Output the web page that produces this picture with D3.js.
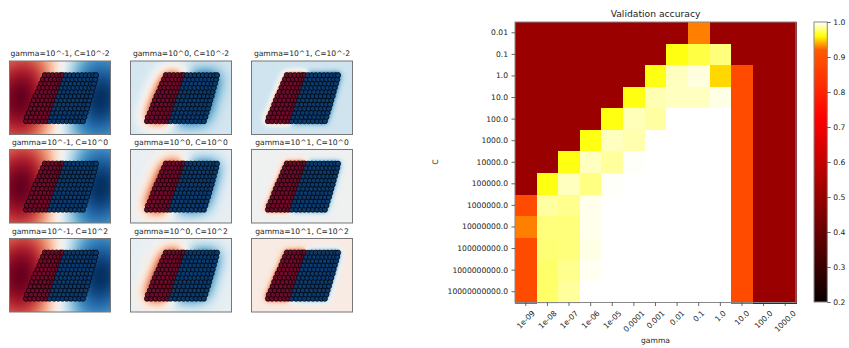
<!DOCTYPE html>
<html>
<head>
<meta charset="utf-8">
<script src="https://cdn.jsdelivr.net/npm/d3@7"></script>
<style>
body { margin: 0; background: #fff; }
svg { display: block; font-family: "DejaVu Sans", sans-serif; }
</style>
</head>
<body>
<svg id="chart" width="849" height="348"></svg>
<script>
// grid search values
var cLabels = ["0.01", "0.1", "1.0", "10.0", "100.0", "1000.0", "10000.0", "100000.0",
  "1000000.0", "10000000.0", "100000000.0", "1000000000.0", "10000000000.0"];
var gammaLabels = ["1e-09", "1e-08", "1e-07", "1e-06", "1e-05", "0.0001", "0.001",
  "0.01", "0.1", "1.0", "10.0", "100.0", "1000.0"];
// validation accuracy, one row per C, one column per gamma
var scores = [
  [0.51, 0.51, 0.51, 0.51, 0.51, 0.51, 0.51, 0.51, 0.929, 0.51, 0.51, 0.51, 0.51],
  [0.51, 0.51, 0.51, 0.51, 0.51, 0.51, 0.51, 0.962, 0.970, 0.979, 0.51, 0.51, 0.51],
  [0.51, 0.51, 0.51, 0.51, 0.51, 0.51, 0.962, 0.990, 0.995, 0.950, 0.887, 0.51, 0.51],
  [0.51, 0.51, 0.51, 0.51, 0.51, 0.962, 0.988, 0.990, 0.990, 0.996, 0.887, 0.51, 0.51],
  [0.51, 0.51, 0.51, 0.51, 0.962, 0.989, 0.985, 1.0, 1.0, 1.0, 0.887, 0.51, 0.51],
  [0.51, 0.51, 0.51, 0.962, 0.990, 0.987, 1.0, 1.0, 1.0, 1.0, 0.887, 0.51, 0.51],
  [0.51, 0.51, 0.962, 0.990, 0.984, 0.999, 1.0, 1.0, 1.0, 1.0, 0.887, 0.51, 0.51],
  [0.51, 0.962, 0.990, 0.980, 0.999, 1.0, 1.0, 1.0, 1.0, 1.0, 0.887, 0.51, 0.51],
  [0.887, 0.985, 0.982, 0.997, 1.0, 1.0, 1.0, 1.0, 1.0, 1.0, 0.887, 0.51, 0.51],
  [0.929, 0.979, 0.979, 0.997, 1.0, 1.0, 1.0, 1.0, 1.0, 1.0, 0.887, 0.51, 0.51],
  [0.887, 0.978, 0.979, 0.996, 1.0, 1.0, 1.0, 1.0, 1.0, 1.0, 0.887, 0.51, 0.51],
  [0.887, 0.976, 0.982, 0.998, 1.0, 1.0, 1.0, 1.0, 1.0, 1.0, 0.887, 0.51, 0.51],
  [0.887, 0.976, 0.984, 1.0, 1.0, 1.0, 1.0, 1.0, 1.0, 1.0, 0.887, 0.51, 0.51]
];
var cbTicks = [0.2, 0.3, 0.4, 0.5, 0.6, 0.7, 0.8, 0.9, 1.0];

// 2d toy data on the left: [y, [x, x, ...]] per row
var redRows = [
  [-1.40, [-2.02, -1.78, -1.52, -1.27, -1.03, -0.82]],
  [-1.16, [-1.97, -1.71, -1.44, -1.20, -0.95, -0.72]],
  [-0.91, [-1.85, -1.60, -1.36, -1.10, -0.86, -0.62]],
  [-0.66, [-1.74, -1.49, -1.24, -0.99, -0.75, -0.53]],
  [-0.40, [-1.65, -1.41, -1.15, -0.90, -0.66, -0.45]],
  [-0.14, [-1.55, -1.30, -1.05, -0.80, -0.56, -0.36]],
  [0.11, [-1.45, -1.20, -0.95, -0.70, -0.47, -0.27]],
  [0.35, [-1.33, -1.08, -0.84, -0.60, -0.38, -0.18]],
  [0.61, [-1.22, -0.99, -0.75, -0.51, -0.29, -0.08]],
  [0.86, [-1.12, -0.88, -0.64, -0.40, -0.18, 0.02]],
  [1.11, [-1.01, -0.78, -0.54, -0.30, -0.08, 0.10]],
  [1.36, [-0.90, -0.68, -0.44, -0.20, 0.02, 0.16]]
];
var blueRows = [
  [-1.40, [-0.62, -0.35, -0.10, 0.15, 0.40, 0.65, 0.90, 1.15, 1.36]],
  [-1.15, [-0.52, -0.27, -0.02, 0.23, 0.48, 0.73, 0.98, 1.22, 1.45]],
  [-0.90, [-0.44, -0.19, 0.06, 0.31, 0.56, 0.81, 1.05, 1.30, 1.52]],
  [-0.65, [-0.35, -0.10, 0.15, 0.40, 0.65, 0.89, 1.13, 1.37, 1.60]],
  [-0.40, [-0.27, -0.02, 0.23, 0.48, 0.72, 0.96, 1.21, 1.45, 1.67]],
  [-0.15, [-0.18, 0.07, 0.32, 0.56, 0.80, 1.04, 1.28, 1.52, 1.74]],
  [0.10, [-0.10, 0.15, 0.40, 0.64, 0.88, 1.12, 1.36, 1.60, 1.82]],
  [0.35, [0.00, 0.24, 0.48, 0.72, 0.96, 1.20, 1.44, 1.67, 1.88]],
  [0.60, [0.08, 0.32, 0.56, 0.80, 1.04, 1.28, 1.52, 1.75, 1.95]],
  [0.85, [0.16, 0.40, 0.64, 0.88, 1.12, 1.36, 1.60, 1.83, 2.02]],
  [1.10, [0.25, 0.49, 0.73, 0.97, 1.21, 1.45, 1.68, 1.90, 2.09]],
  [1.35, [0.36, 0.58, 0.82, 1.06, 1.30, 1.53, 1.76, 1.98, 2.14]]
];
var gammaExp = [-1, 0, 1];
var cExp = [-2, 0, 2];
// kernel width used for the background of each column, and red class weight (rows C, cols gamma)
var kernelGamma = [0.1, 2, 12];
var redWeight = [
  [1.0, 1.15, 1.0],
  [1.0, 0.95, 0.72],
  [1.0, 0.95, 0.6]
];

var svg = d3.select("#chart");

// ---------- left: decision functions ----------
var panelX = [9.5, 130.5, 251.5], panelY = [61, 149.5, 238.5];
var pw = 101, ph = 73.5;
var px = d3.scaleLinear().domain([-3, 3]).range([0, pw]);
var py = d3.scaleLinear().domain([-2.2, 2.2]).range([ph, 0]);

var redPts = [], bluePts = [], allPts = [];
redRows.forEach(function (r, i) {
  r[1].forEach(function (x) { redPts.push([x, r[0]]); allPts.push({x: x, y: r[0], c: 0}); });
  blueRows[i][1].forEach(function (x) {
    bluePts.push([x, blueRows[i][0]]);
    allPts.push({x: x, y: blueRows[i][0], c: 1});
  });
});

function field(gamma, wr) {
  var w = Math.ceil(pw), h = Math.ceil(ph);
  var vals = new Float64Array(w * h), lo = Infinity, hi = -Infinity;
  for (var j = 0; j < h; j++) {
    for (var i = 0; i < w; i++) {
      var x = px.invert(i + 0.5), y = py.invert(j + 0.5);
      var sr = 0, sb = 0;
      redPts.forEach(function (p) { var dx = x - p[0], dy = y - p[1]; sr += Math.exp(-gamma * (dx * dx + dy * dy)); });
      bluePts.forEach(function (p) { var dx = x - p[0], dy = y - p[1]; sb += Math.exp(-gamma * (dx * dx + dy * dy)); });
      var v = sb / bluePts.length - wr * sr / redPts.length;
      vals[j * w + i] = v;
      if (v < lo) lo = v;
      if (v > hi) hi = v;
    }
  }
  var canvas = document.createElement("canvas");
  canvas.width = w; canvas.height = h;
  var ctx = canvas.getContext("2d");
  var img = ctx.createImageData(w, h);
  for (var k = 0; k < w * h; k++) {
    var c = d3.rgb(d3.interpolateRdBu((vals[k] - lo) / (hi - lo)));
    img.data[k * 4] = c.r; img.data[k * 4 + 1] = c.g; img.data[k * 4 + 2] = c.b; img.data[k * 4 + 3] = 255;
  }
  ctx.putImageData(img, 0, 0);
  return canvas.toDataURL();
}

cExp.forEach(function (ce, r) {
  gammaExp.forEach(function (ge, c) {
    var g = svg.append("g").attr("transform", "translate(" + panelX[c] + "," + panelY[r] + ")");
    g.append("image")
      .attr("href", field(kernelGamma[c], redWeight[r][c]))
      .attr("width", pw).attr("height", ph)
      .attr("preserveAspectRatio", "none");
    g.selectAll("circle").data(allPts).enter().append("circle")
      .attr("cx", function (d) { return px(d.x); })
      .attr("cy", function (d) { return py(d.y); })
      .attr("r", 2.6)
      .attr("fill", function (d) { return d.c ? "#0b3a6e" : "#700a2a"; })
      .attr("stroke", "#000").attr("stroke-width", 0.7);
    g.append("rect").attr("width", pw).attr("height", ph)
      .attr("fill", "none").attr("stroke", "#777").attr("stroke-width", 1);
    g.append("text").attr("x", pw / 2).attr("y", -5)
      .attr("text-anchor", "middle").attr("font-size", 7.6).attr("fill", "#222")
      .text("gamma=10^" + ge + ", C=10^" + ce);
  });
});

// ---------- right: validation accuracy heatmap ----------
var hx = d3.scaleBand().domain(gammaLabels).range([515, 796]);
var hy = d3.scaleBand().domain(cLabels).range([22, 302.5]);
var norm = d3.scaleLinear().domain([0.2, 0.92, 1.0]).range([0, 0.5, 1]).clamp(true);

function hot(n) {
  var r = n < 0.365079 ? 0.0416 + 0.9584 * n / 0.365079 : 1;
  var g = n < 0.365079 ? 0 : (n < 0.746032 ? (n - 0.365079) / 0.380953 : 1);
  var b = n < 0.746032 ? 0 : (n - 0.746032) / 0.253968;
  return d3.rgb(r * 255, g * 255, b * 255).toString();
}

var cells = [];
scores.forEach(function (row, i) {
  row.forEach(function (v, j) { cells.push({c: cLabels[i], g: gammaLabels[j], v: v}); });
});

svg.append("g").attr("shape-rendering", "crispEdges")
  .selectAll("rect").data(cells).enter().append("rect")
  .attr("x", function (d) { return hx(d.g); })
  .attr("y", function (d) { return hy(d.c); })
  .attr("width", hx.bandwidth() + 1)
  .attr("height", hy.bandwidth() + 1)
  .attr("fill", function (d) { return hot(norm(d.v)); });

svg.append("rect").attr("x", 515).attr("y", 22).attr("width", 281).attr("height", 280.5)
  .attr("fill", "none").attr("stroke", "#888").attr("stroke-width", 1);

var xAxis = svg.append("g").attr("transform", "translate(0,302.5)")
  .call(d3.axisBottom(hx).tickSize(3.5).tickSizeOuter(0));
xAxis.select(".domain").remove();
xAxis.selectAll("line").attr("stroke", "#444").attr("stroke-width", 0.8);
xAxis.selectAll("text")
  .attr("font-size", 7.6).attr("fill", "#222").attr("font-family", "DejaVu Sans")
  .attr("text-anchor", "middle").attr("dy", "0.35em").attr("y", 0)
  .attr("transform", function () {
    var s = (this.getComputedTextLength() + 8) * 0.7071;
    return "translate(0," + (6.5 + s / 2) + ") rotate(-45)";
  });

var yAxis = svg.append("g").attr("transform", "translate(515,0)")
  .call(d3.axisLeft(hy).tickSize(3.5).tickPadding(3.5).tickSizeOuter(0));
yAxis.select(".domain").remove();
yAxis.selectAll("line").attr("stroke", "#444").attr("stroke-width", 0.8);
yAxis.selectAll("text").attr("font-size", 7.6).attr("fill", "#222").attr("font-family", "DejaVu Sans");

svg.append("text").attr("x", 655.5).attr("y", 17).attr("text-anchor", "middle")
  .attr("font-size", 9.2).attr("fill", "#222").text("Validation accuracy");
svg.append("text").attr("x", 655.5).attr("y", 343).attr("text-anchor", "middle")
  .attr("font-size", 7.6).attr("fill", "#222").text("gamma");
svg.append("text").attr("transform", "translate(438,162) rotate(-90)").attr("text-anchor", "middle")
  .attr("font-size", 7.6).attr("fill", "#222").text("C");

// colorbar
var cb = d3.scaleLinear().domain([0.2, 1.0]).range([302, 22]);
var grad = svg.append("defs").append("linearGradient").attr("id", "cbgrad")
  .attr("x1", 0).attr("y1", 1).attr("x2", 0).attr("y2", 0);
d3.range(0, 1.0001, 0.005).forEach(function (t) {
  var v = 0.2 + 0.8 * t;
  grad.append("stop").attr("offset", t).attr("stop-color", hot(norm(v)));
});
svg.append("rect").attr("x", 814).attr("y", 22).attr("width", 13.3).attr("height", 280)
  .attr("fill", "url(#cbgrad)").attr("stroke", "#888").attr("stroke-width", 1);
var cbAxis = svg.append("g").attr("transform", "translate(827.3,0)")
  .call(d3.axisRight(cb).tickValues(cbTicks).tickFormat(d3.format(".1f")).tickSize(3.5).tickPadding(2.5));
cbAxis.select(".domain").remove();
cbAxis.selectAll("line").attr("stroke", "#444").attr("stroke-width", 0.8);
cbAxis.selectAll("text").attr("font-size", 7.6).attr("fill", "#222").attr("font-family", "DejaVu Sans");
</script>
</body>
</html>
